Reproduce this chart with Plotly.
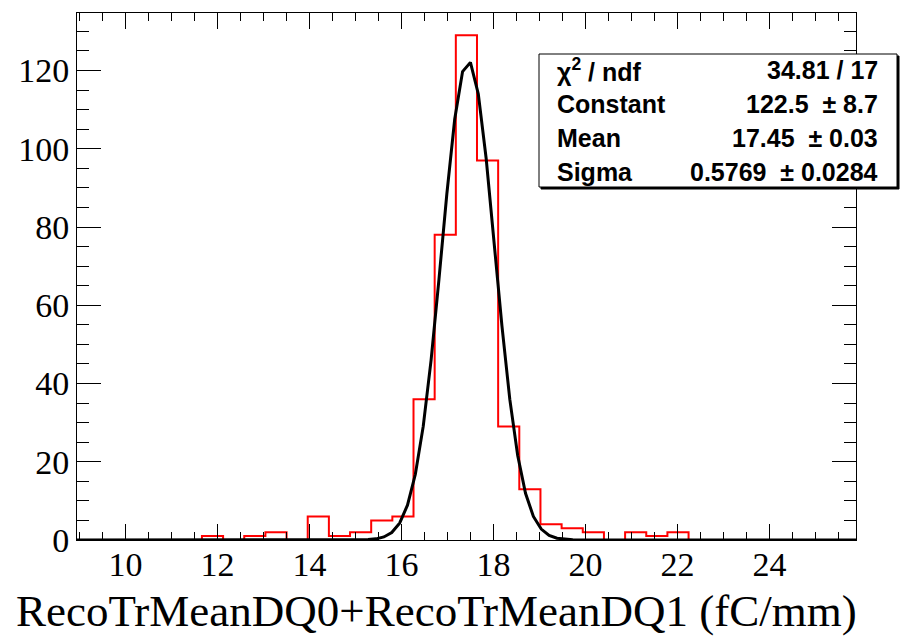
import numpy as np
import plotly.graph_objects as go

# Histogram: 37 bins of width 0.46 starting at 8.9
bin_start = 8.9
bin_width = 0.46
counts = [0, 0, 0, 0, 0, 0, 1, 0, 1, 2,
          0, 6, 1, 2, 5, 6, 36, 78, 129, 97,
          29, 13, 4, 3, 2, 0, 2, 1, 2, 0,
          0, 0, 0, 0, 0, 0, 0]

# Gaussian fit results
fit_constant = 122.5
fit_mean = 17.45
fit_sigma = 0.5769
stat_labels = ["χ<sup>2</sup> / ndf", "Constant", "Mean", "Sigma"]
stat_values = ["34.81 / 17", "122.5 &nbsp;± 8.7", "17.45 &nbsp;± 0.03",
               "0.5769 &nbsp;± 0.0284"]

x_tick_vals = [10, 12, 14, 16, 18, 20, 22, 24]
y_tick_vals = [0, 20, 40, 60, 80, 100, 120]
x_title = "RecoTrMeanDQ0+RecoTrMeanDQ1 (fC/mm)"

x_range = [8.944, 25.88]
y_range = [0, 134.7]

edges = bin_start + bin_width * np.arange(len(counts) + 1)
step_y = counts + [counts[-1]]

fx = np.linspace(x_range[0], x_range[1], 100)
fy = fit_constant * np.exp(-0.5 * ((fx - fit_mean) / fit_sigma) ** 2)

W, H = 900, 637
L, R, T, B = 77, 856, 13, 540
pw, ph = R - L, B - T


def px_x(px):
    return (px - L) / pw


def px_y(py):
    return (B - py) / ph


fig = go.Figure()
fig.add_trace(go.Scatter(x=edges, y=step_y, mode="lines", line_shape="hv",
                         line=dict(color="#ff0000", width=2), showlegend=False,
                         hoverinfo="skip"))
fig.add_trace(go.Scatter(x=fx, y=fy, mode="lines",
                         line=dict(color="black", width=3), showlegend=False,
                         hoverinfo="skip"))

tick_font = dict(family="Liberation Serif", size=34, color="black")

fig.update_xaxes(range=x_range, tickvals=x_tick_vals, ticks="inside", ticklen=16,
                 tickwidth=1, tickcolor="black", showline=True, linecolor="black",
                 linewidth=1, mirror="ticks", showgrid=False, zeroline=False,
                 tickfont=tick_font, ticklabelstandoff=-6,
                 minor=dict(dtick=0.5, tick0=0, ticks="inside", ticklen=8,
                            tickcolor="black", tickwidth=1, showgrid=False))
fig.update_yaxes(range=y_range, tickvals=y_tick_vals, ticks="inside", ticklen=24,
                 tickwidth=1, tickcolor="black", showline=True, linecolor="black",
                 linewidth=1, mirror="ticks", showgrid=False, zeroline=False,
                 tickfont=tick_font,
                 minor=dict(dtick=5, tick0=0, ticks="inside", ticklen=12,
                            tickcolor="black", tickwidth=1, showgrid=False))

# Fit statistics box with a thin shadow
bx0, bx1, by0, by1 = 539, 897, 54, 187
fig.add_shape(type="rect", xref="paper", yref="paper",
              x0=px_x(bx0 + 2), x1=px_x(bx1 + 2), y0=px_y(by1 + 2), y1=px_y(by0 + 2),
              line=dict(color="black", width=1), fillcolor="black", layer="above")
fig.add_shape(type="rect", xref="paper", yref="paper",
              x0=px_x(bx0), x1=px_x(bx1), y0=px_y(by1), y1=px_y(by0),
              line=dict(color="black", width=1), fillcolor="white", layer="above")

row_y = [70, 104.5, 138, 171.5]
box_font = dict(family="Liberation Sans", size=25, color="black")
for lab, val, ry in zip(stat_labels, stat_values, row_y):
    fig.add_annotation(xref="paper", yref="paper", x=px_x(555), y=px_y(ry),
                       xanchor="left", yanchor="middle", text="<b>" + lab + "</b>",
                       showarrow=False, font=box_font)
    fig.add_annotation(xref="paper", yref="paper", x=px_x(880), y=px_y(ry),
                       xanchor="right", yanchor="middle", text="<b>" + val + "</b>",
                       showarrow=False, font=box_font)

fig.add_annotation(xref="paper", yref="paper", x=px_x(859), y=px_y(611),
                   xanchor="right", yanchor="middle", text=x_title, showarrow=False,
                   font=dict(family="Liberation Serif", size=45, color="black"))

fig.update_layout(width=W, height=H, margin=dict(l=L, r=W - R, t=T, b=H - B),
                  paper_bgcolor="white", plot_bgcolor="white")

fig.write_html("out.html")
